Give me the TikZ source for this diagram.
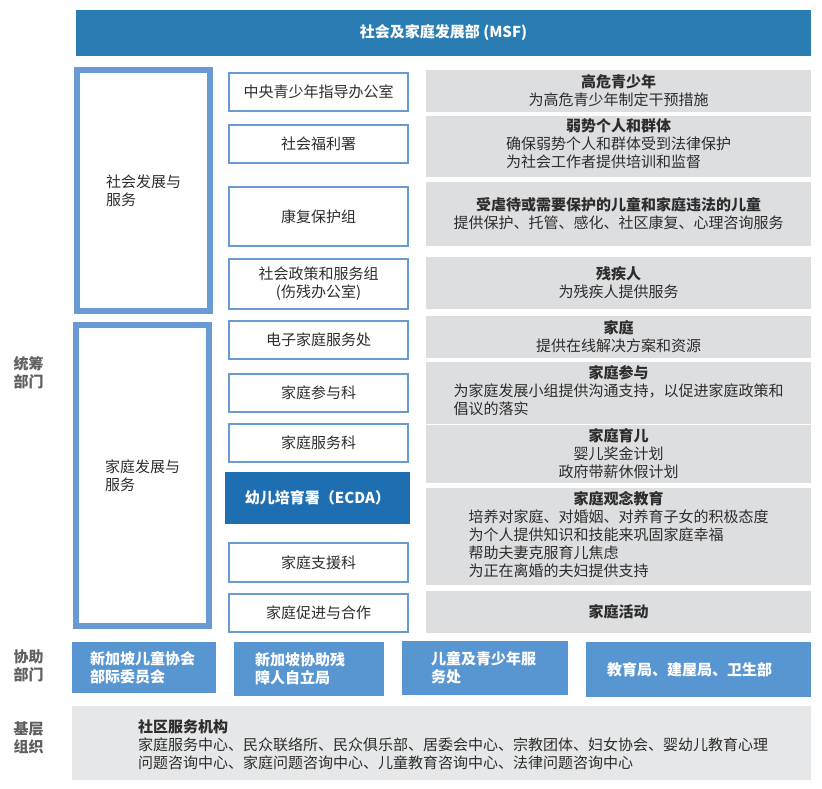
\documentclass[tikz,border=0pt]{standalone}
\usepackage{fontspec}
\setmainfont{Noto Sans CJK SC}
\definecolor{msfblue}{RGB}{42,125,179}
\definecolor{ecdablue}{RGB}{30,111,178}
\definecolor{aidblue}{RGB}{88,150,210}
\definecolor{lineblue}{RGB}{104,155,212}
\definecolor{svcgrey}{RGB}{221,222,224}
\definecolor{basegrey}{RGB}{230,231,232}
\definecolor{textdark}{RGB}{45,45,45}
\definecolor{sidegrey}{RGB}{95,95,95}
\begin{document}
\begin{tikzpicture}[x = 1pt, y = -1pt, align = center, font = \fontsize{15}{18}\selectfont,
        banner/.style = {fill=msfblue, text=white, font=\fontsize{15}{18}\selectfont\bfseries},
        group/.style = {draw=lineblue, line width=4pt, align=left, text=textdark, minimum width=135pt},
        inner/.style = {draw=lineblue, line width=1.2pt},
        unit/.style = {draw=lineblue, line width=2pt, text=textdark, minimum width=179pt},
        lead/.style = {fill=ecdablue, text=white, font=\fontsize{15}{18}\selectfont\bfseries},
        svc/.style = {fill=svcgrey, text=textdark, minimum width=385pt},
        aid/.style = {fill=aidblue, text=white, align=left, text width=108pt, font=\fontsize{15}{18}\selectfont\bfseries},
        side/.style = {text=sidegrey, align=left, font=\fontsize{15}{18}\selectfont\bfseries}]
            \useasboundingbox (0,0) rectangle (822,788);
            \node[banner, minimum width=735pt, minimum height=46pt] (msf) at (443.5,33) {社会及家庭发展部 (MSF)};
            % groups on the left
            \node[group, minimum height=243pt] (sds) at (143.5,190.5) {社会发展与\\服务};
            \node[group, minimum height=303pt] (fds) at (142.5,475.5) {家庭发展与\\服务};
            \draw[inner] ([shift={(5pt,-5pt)}]sds.north west) rectangle ([shift={(-5pt,5pt)}]sds.south east);
            \draw[inner] ([shift={(5pt,-5pt)}]fds.north west) rectangle ([shift={(-5pt,5pt)}]fds.south east);
            % units
            \node[unit, minimum height=38pt] (u1) at (318.5,92) {中央青少年指导办公室};
            \node[unit, minimum height=38pt] (u2) at (318.5,144) {社会福利署};
            \node[unit, minimum height=59pt] (u3) at (318.5,216.5) {康复保护组};
            \node[unit, minimum height=50pt] (u4) at (318.5,284) {社会政策和服务组\\(伤残办公室)};
            \node[unit, minimum height=38pt] (u5) at (318.5,340) {电子家庭服务处};
            \node[unit, minimum height=38pt] (u6) at (318.5,393) {家庭参与科};
            \node[unit, minimum height=38pt] (u7) at (318.5,443) {家庭服务科};
            \node[lead, minimum width=185pt, minimum height=52pt] (ecda) at (317.5,498) {幼儿培育署（ECDA）};
            \node[unit, minimum height=39pt] (u9) at (318.5,562.5) {家庭支援科};
            \node[unit, minimum height=38pt] (u10) at (318.5,613) {家庭促进与合作};
            % services
            \node[svc, minimum height=42pt] (s1) at (618.5,91) {\textbf{高危青少年}\\为高危青少年制定干预措施};
            \node[svc, minimum height=58pt] (s2) at (618.5,146) {\textbf{弱势个人和群体}\\\begin{tabular}[t]{@{}l@{}}确保弱势个人和群体受到法律保护\\为社会工作者提供培训和监督\end{tabular}};
            \node[svc, minimum height=64pt] (s3) at (618.5,214) {\textbf{受虐待或需要保护的儿童和家庭违法的儿童}\\提供保护、托管、感化、社区康复、心理咨询服务};
            \node[svc, minimum height=52pt] (s4) at (618.5,283) {\textbf{残疾人}\\为残疾人提供服务};
            \node[svc, minimum height=42pt] (s5) at (618.5,337) {\textbf{家庭}\\提供在线解决方案和资源};
            \node[svc, minimum height=56pt] (s6) at (618.5,393) {\textbf{家庭参与}\\\begin{tabular}[t]{@{}l@{}}为家庭发展小组提供沟通支持，以促进家庭政策和\\倡议的落实\end{tabular}};
            \node[svc, minimum height=58pt] (s7) at (618.5,454) {\textbf{家庭育儿}\\婴儿奖金计划\\政府带薪休假计划};
            \node[svc, minimum height=97pt] (s8) at (618.5,536.5) {\textbf{家庭观念教育}\\\begin{tabular}[t]{@{}l@{}}培养对家庭、对婚姻、对养育子女的积极态度\\为个人提供知识和技能来巩固家庭幸福\\帮助夫妻克服育儿焦虑\\为正在离婚的夫妇提供支持\end{tabular}};
            \node[svc, minimum height=42pt] (s9) at (618.5,612) {\textbf{家庭活动}};
            % helpers and base
            \node[aid, minimum width=144pt, minimum height=51pt] (a1) at (144,667.5) {新加坡儿童协会\\部际委员会};
            \node[aid, minimum width=150pt, minimum height=54pt] (a2) at (309,669) {新加坡协助残\\障人自立局};
            \node[aid, minimum width=166pt, minimum height=54pt] (a3) at (485,668) {儿童及青少年服\\务处};
            \node[aid, minimum width=225pt, minimum height=55pt, text width=183pt] (a4) at (698.5,669.5) {教育局、建屋局、卫生部};
            \node[fill=basegrey, minimum width=739pt, minimum height=74pt] (base) at (441.5,743) {};
            \node[anchor=west, align=left, inner sep=0pt, text=textdark] (basetxt) at (138,744.5) {\textbf{社区服务机构}\\家庭服务中心、民众联络所、民众俱乐部、居委会中心、宗教团体、妇女协会、婴幼儿教育心理\\问题咨询中心、家庭问题咨询中心、儿童教育咨询中心、法律问题咨询中心};
            % side labels
            \node[side] (l1) at (28.5,372.5) {统筹\\部门};
            \node[side] (l2) at (28.5,666) {协助\\部门};
            \node[side] (l3) at (28.5,737.5) {基层\\组织};
        \end{tikzpicture}
\end{document}
